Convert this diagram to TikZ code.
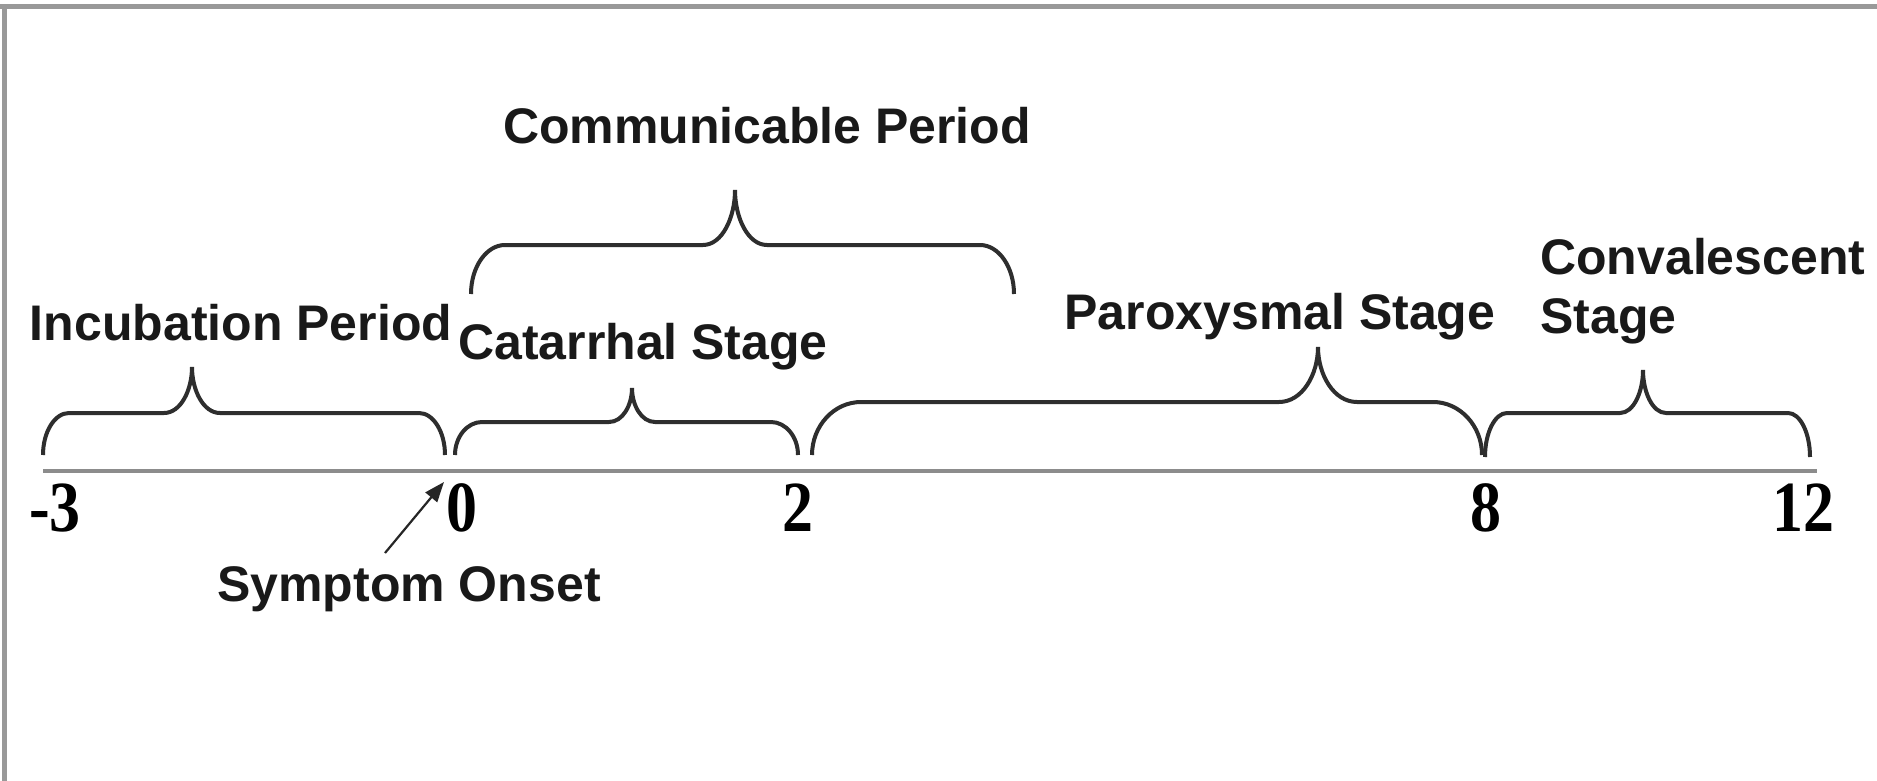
\documentclass[tikz,border=0pt]{standalone}
\usepackage{fontspec}
\setmainfont{Liberation Serif}
\setsansfont{Liberation Sans}
\newfontfamily\numfont[FakeStretch=0.86]{Liberation Serif}
\usetikzlibrary{arrows.meta}
\tikzset{
  lbl/.style={font=\sffamily\bfseries\fontsize{50}{60}\selectfont, inner sep=0pt, text=black!90},
  num/.style={font=\numfont\bfseries\fontsize{72}{80}\selectfont, inner sep=0pt},
  brc/.style={draw=black!82, line width=4pt},
  axisline/.style={draw=black!45, line width=4.5pt},
  frameline/.style={draw=black!40, line width=5pt},
  onsetarrow/.style={draw=black!85, line width=2.2pt, -{Triangle[length=20pt,width=15pt]}},
}
% #1 xL  #2 xR  #3 xtip  #4 ybottom  #5 yflat  #6 ytip  #7 end width  #8 cusp half-width
\newcommand\tlbrace[8]{%
  \draw[brc] (#1,#4) .. controls (#1,{#4-0.55*(#4-#5)}) and ({#1+0.45*#7},#5) .. ({#1+#7},#5)
    -- ({#3-#8},#5) .. controls ({#3-0.4*#8},#5) and (#3,{#5-0.5*(#5-#6)}) .. (#3,#6)
    .. controls (#3,{#5-0.5*(#5-#6)}) and ({#3+0.4*#8},#5) .. ({#3+#8},#5)
    -- ({#2-#7},#5) .. controls ({#2-0.45*#7},#5) and (#2,{#4-0.55*(#4-#5)}) .. (#2,#4);}
\begin{document}
\begin{tikzpicture}[x=1pt,y=-1pt]
\useasboundingbox (0,0) rectangle (1877,781);
\fill[white] (0,0) rectangle (1877,781);
% frame
\draw[frameline] (0,7) -- (1877,7);
\draw[frameline] (4,7) -- (4,781);
% axis
\coordinate (axL) at (43,471);
\coordinate (axR) at (1817,471);
\draw[axisline] (axL) -- (axR);
% tick labels
\node[num] (tm3) at (55,508) {-3};
\node[num] (t0)  at (462,508) {0};
\node[num] (t2)  at (798,508) {2};
\node[num] (t8)  at (1486,508) {8};
\node[num] (t12) at (1803,508) {12};
% braces
\tlbrace{43}{445}{192}{455}{413}{367}{26}{28}
\tlbrace{455}{798}{632}{455}{422}{388}{27}{23}
\tlbrace{812}{1482}{1318}{455}{402}{347}{49}{39}
\tlbrace{1485}{1810}{1643}{457}{413}{370}{22}{23}
\tlbrace{471}{1014}{735}{294}{245}{190}{34}{32}
% labels
\node[lbl] (incub) at (241,323) {Incubation Period};
\node[lbl] (catar) at (643,347) {Catarrhal Stage};
\node[lbl] (commun) at (767,126) {Communicable Period};
\node[lbl] (parox) at (1280,317) {Paroxysmal Stage};
\node[lbl, anchor=west] (conv1) at (1540,257) {Convalescent};
\node[lbl, anchor=west] (conv2) at (1540,321) {Stage};
\node[lbl] (onset) at (409,589) {Symptom Onset};
% arrow
\coordinate (arrtail) at (385,553);
\coordinate (arrhead) at (444,482);
\draw[onsetarrow] (arrtail) -- (arrhead);
\end{tikzpicture}
\end{document}
